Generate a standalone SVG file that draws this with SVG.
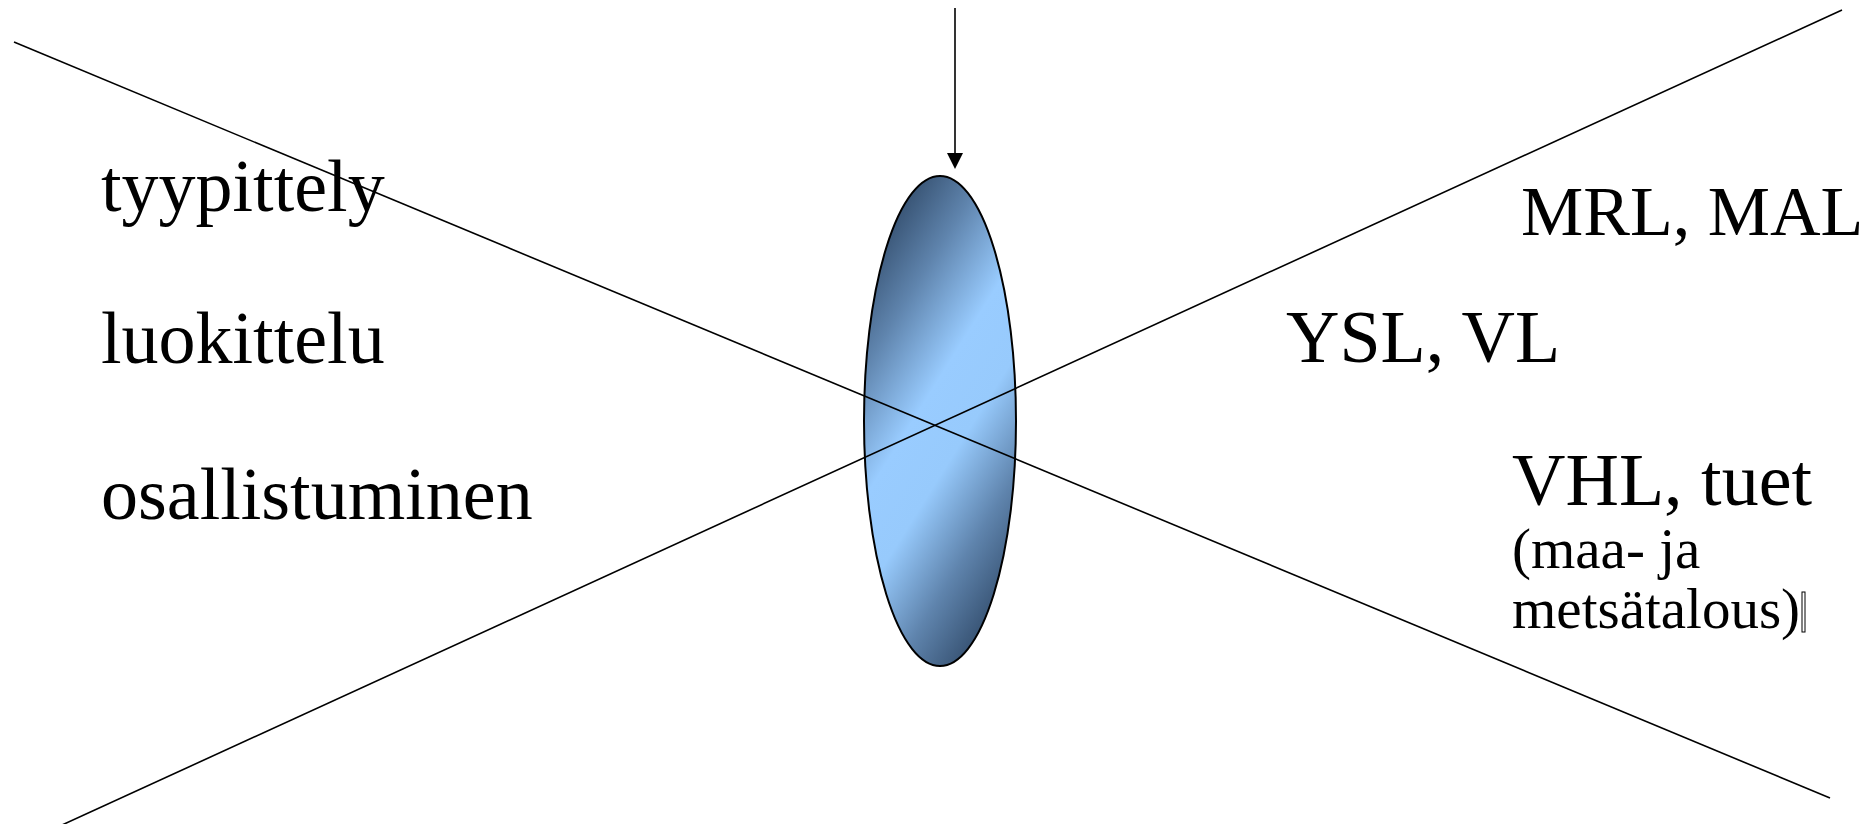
<svg xmlns="http://www.w3.org/2000/svg" width="1876" height="824" viewBox="0 0 1876 824">
  <style>
    .t { font-family: "Liberation Serif", "Times New Roman", serif; fill: #000; }
    .big { font-size: 74px; }
    .mid { font-size: 70px; }
    .small { font-size: 57px; }
    .ln { stroke: #000; stroke-width: 1.6; fill: none; }
  </style>
  <defs>
    <linearGradient id="lens" gradientUnits="userSpaceOnUse" x1="817" y1="344" x2="1063" y2="498">
      <stop offset="0" stop-color="#3a5677"/>
      <stop offset="0.18" stop-color="#5f84ad"/>
      <stop offset="0.42" stop-color="#99ccff"/>
      <stop offset="0.6" stop-color="#97cafc"/>
      <stop offset="0.82" stop-color="#5f84ad"/>
      <stop offset="1" stop-color="#3a5677"/>
    </linearGradient>
    <marker id="arrow" markerWidth="16" markerHeight="16" refX="14" refY="8" orient="auto" markerUnits="userSpaceOnUse">
      <path d="M0,0 L16,8 L0,16 Z" fill="#000"/>
    </marker>
  </defs>

  <g id="lens-node">
    <ellipse cx="940" cy="421" rx="76" ry="245" fill="url(#lens)" stroke="#000" stroke-width="2"/>
  </g>

  <g id="connectors">
    <line class="ln" x1="14" y1="42" x2="1830" y2="798"/>
    <line class="ln" x1="62" y1="825" x2="1842" y2="10"/>
    <line class="ln" x1="955" y1="8" x2="955" y2="167" marker-end="url(#arrow)"/>
  </g>

  <g id="left-labels">
    <text class="t big" x="101" y="211">tyypittely</text>
    <text class="t big" x="101" y="363">luokittelu</text>
    <text class="t big" x="101" y="519">osallistuminen</text>
  </g>

  <g id="right-labels">
    <text class="t mid" x="1521" y="235">MRL, MAL</text>
    <text class="t big" x="1286" y="362">YSL, VL</text>
    <text class="t big" x="1512" y="505">VHL, tuet</text>
    <text class="t small" x="1512" y="568">(maa- ja</text>
    <text class="t small" x="1512" y="628">metsätalous)</text>
    <rect x="1802" y="592" width="3" height="40" fill="none" stroke="#000" stroke-width="1"/>
  </g>
</svg>
